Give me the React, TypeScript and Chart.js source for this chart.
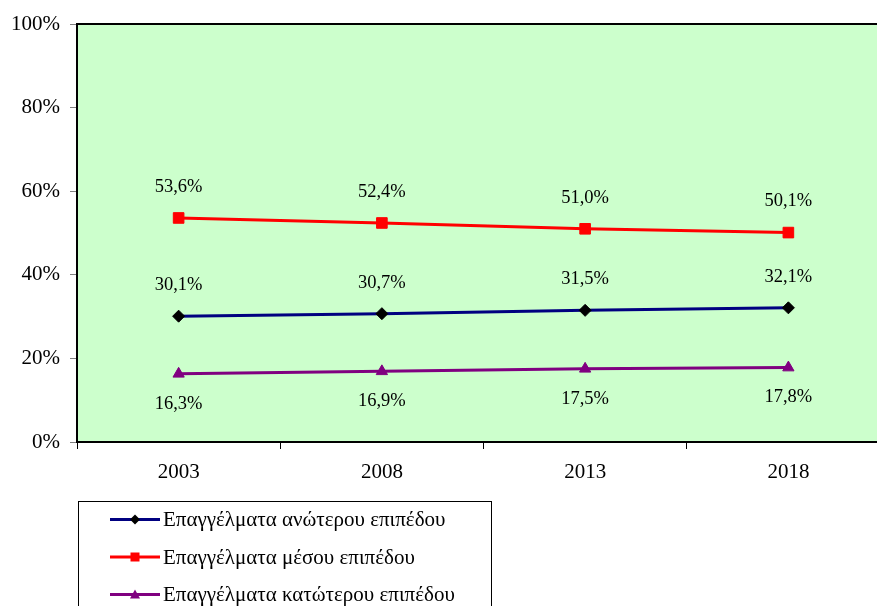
import React, { useEffect, useRef } from "react";
import { Chart, registerables } from "chart.js";

Chart.register(...registerables);

const categories = ["2003", "2008", "2013", "2018"];
const seriesNames = [
  "Επαγγέλματα ανώτερου επιπέδου",
  "Επαγγέλματα μέσου επιπέδου",
  "Επαγγέλματα κατώτερου επιπέδου",
];
const upperLevel = [30.1, 30.7, 31.5, 32.1];
const middleLevel = [53.6, 52.4, 51.0, 50.1];
const lowerLevel = [16.3, 16.9, 17.5, 17.8];
const yTicks = [0, 20, 40, 60, 80, 100];

const FONT = "'Liberation Serif', 'Times New Roman', serif";
const W = 900;
const H = 640;

const lineColors = ["#000080", "#FF0000", "#800080"];
const markerColors = ["#000000", "#FF0000", "#800080"];
const markerStyles: any[] = ["rectRot", "rect", "triangle"];
const markerRadius = [6, 7.5, 6.5];
const labelBelow = [false, false, true];

const fmt = (v: number) => v.toFixed(1).replace(".", ",") + "%";

const bgPlugin = {
  id: "bgPlugin",
  beforeDraw(chart: any) {
    const { ctx, chartArea: a } = chart;
    ctx.save();
    ctx.fillStyle = "#CCFFCC";
    ctx.fillRect(a.left, a.top, a.right - a.left, a.bottom - a.top);
    ctx.restore();
  },
  afterDraw(chart: any) {
    const { ctx, chartArea: a } = chart;
    ctx.save();
    ctx.strokeStyle = "#000000";
    ctx.lineWidth = 2;
    ctx.beginPath();
    ctx.moveTo(a.left, a.top);
    ctx.lineTo(a.right, a.top);
    ctx.lineTo(a.right, a.bottom);
    ctx.stroke();
    ctx.restore();
  },
};

const labelPlugin = {
  id: "labelPlugin",
  afterDatasetsDraw(chart: any) {
    const { ctx } = chart;
    ctx.save();
    ctx.font = `18.5px ${FONT}`;
    ctx.fillStyle = "#000000";
    ctx.textAlign = "center";
    ctx.textBaseline = "middle";
    chart.data.datasets.forEach((ds: any, i: number) => {
      const meta = chart.getDatasetMeta(i);
      meta.data.forEach((pt: any, j: number) => {
        const dy = labelBelow[i] ? 30 : -31;
        ctx.fillText(fmt(ds.data[j]), pt.x, pt.y + dy);
      });
    });
    ctx.restore();
  },
};

const legendPlugin = {
  id: "boxLegend",
  afterDraw(chart: any) {
    const { ctx } = chart;
    const left = 78.5;
    const top = 501.5;
    const width = 413;
    const height = 130;
    ctx.save();
    ctx.strokeStyle = "#000000";
    ctx.lineWidth = 1;
    ctx.strokeRect(left, top, width, height);
    ctx.font = `21px ${FONT}`;
    ctx.textBaseline = "middle";
    ctx.textAlign = "left";
    chart.data.datasets.forEach((ds: any, i: number) => {
      const y = 519.5 + i * 37.5;
      ctx.strokeStyle = lineColors[i];
      ctx.lineWidth = 3;
      ctx.beginPath();
      ctx.moveTo(110, y);
      ctx.lineTo(160, y);
      ctx.stroke();
      ctx.fillStyle = markerColors[i];
      ctx.beginPath();
      const cx = 135;
      if (i === 0) {
        ctx.moveTo(cx, y - 5);
        ctx.lineTo(cx + 5, y);
        ctx.lineTo(cx, y + 5);
        ctx.lineTo(cx - 5, y);
        ctx.closePath();
      } else if (i === 1) {
        ctx.rect(cx - 4.5, y - 4.5, 9, 9);
      } else {
        ctx.moveTo(cx, y - 5);
        ctx.lineTo(cx + 5, y + 4);
        ctx.lineTo(cx - 5, y + 4);
        ctx.closePath();
      }
      ctx.fill();
      ctx.fillStyle = "#000000";
      ctx.fillText(ds.label, 163, y + 1);
    });
    ctx.restore();
  },
};

export default function App() {
  const ref = useRef<HTMLCanvasElement | null>(null);
  useEffect(() => {
    if (!ref.current) return;
    const series = [upperLevel, middleLevel, lowerLevel];
    const chart = new Chart(ref.current, {
      type: "line",
      data: {
        labels: categories,
        datasets: series.map((d, i) => ({
          label: seriesNames[i],
          data: d,
          borderColor: lineColors[i],
          backgroundColor: markerColors[i],
          borderWidth: 3,
          pointStyle: markerStyles[i],
          pointRadius: markerRadius[i],
          pointBackgroundColor: markerColors[i],
          pointBorderColor: markerColors[i],
          pointBorderWidth: 1,
          tension: 0,
          fill: false,
        })),
      },
      options: {
        animation: false,
        responsive: false,
        layout: { padding: { left: 0, top: 24, right: 10, bottom: H - 442 - 50 } },
        plugins: {
          legend: { display: false },
          tooltip: { enabled: false },
        },
        scales: {
          x: {
            type: "category",
            offset: true,
            afterFit: (s: any) => {
              s.height = 50;
            },
            grid: {
              offset: true,
              drawOnChartArea: false,
              drawTicks: true,
              tickLength: 7,
              color: "#000000",
            },
            border: { display: true, color: "#000000", width: 2 },
            ticks: {
              color: "#000000",
              font: { family: FONT, size: 21 },
              padding: 11,
              maxRotation: 0,
            },
          },
          y: {
            min: 0,
            max: 100,
            afterFit: (s: any) => {
              s.width = 77;
            },
            afterBuildTicks: (s: any) => {
              s.ticks = yTicks.map((v) => ({ value: v }));
            },
            grid: {
              drawOnChartArea: false,
              drawTicks: true,
              tickLength: 7,
              color: "#808080",
            },
            border: { display: true, color: "#000000", width: 2 },
            ticks: {
              color: "#000000",
              font: { family: FONT, size: 21 },
              padding: 10,
              callback: (v: any) => `${v}%`,
            },
          },
        },
      },
      plugins: [bgPlugin, labelPlugin, legendPlugin],
    });
    return () => chart.destroy();
  }, []);

  return (
    <div
      style={{
        position: "absolute",
        left: 0,
        top: 0,
        width: 877,
        height: 606,
        overflow: "hidden",
        background: "#ffffff",
      }}
    >
      <canvas ref={ref} width={W} height={H} style={{ width: W, height: H, display: "block" }} />
    </div>
  );
}
